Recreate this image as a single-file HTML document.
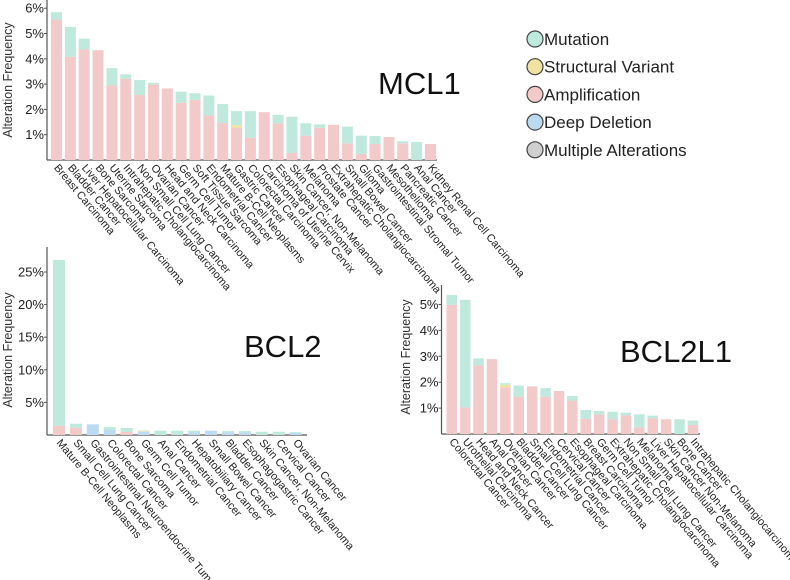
<!DOCTYPE html>
<html><head><meta charset="utf-8">
<style>
html,body{margin:0;padding:0;background:#fff;}
svg{display:block;font-family:"Liberation Sans",Arial,sans-serif;}
</style></head>
<body>
<svg id="chart" width="790" height="580" viewBox="0 0 790 580">
  <g id="legend"></g>
</svg>
<script>
// ---- MCL1 data ----
const mclCats = ["Breast Carcinoma","Bladder Cancer","Liver Hepatocellular Carcinoma","Bone Sarcoma","Uterine Sarcoma","Intrahepatic Cholangiocarcinoma","Non Small Cell Lung Cancer","Ovarian Cancer","Head and Neck Carcinoma","Germ Cell Tumor","Soft Tissue Sarcoma","Endometrial Cancer","Mature B-Cell Neoplasms","Gastric Cancer","Colorectal Carcinoma","Carcinoma of Uterine Cervix","Esophageal Carcinoma","Skin Cancer, Non-Melanoma","Melanoma","Prostate Cancer","Extrahepatic Cholangiocarcinoma","Small Bowel Cancer","Glioma","Gastrointestinal Stromal Tumor","Mesothelioma","Pancreatic Cancer","Anal Cancer","Kidney Renal Cell Carcinoma"];
const mclAmp = [5.55,4.08,4.37,4.34,2.96,3.21,2.57,2.99,2.83,2.26,2.38,1.76,1.46,1.28,0.88,1.89,1.45,0.28,0.96,1.28,1.39,0.66,0.24,0.63,0.91,0.66,0,0.63];
const mclSv = [0,0,0,0,0,0,0,0,0,0,0,0,0,0.1,0,0,0,0,0,0,0,0,0,0,0,0,0,0];
const mclDel = [0,0,0,0,0,0,0,0,0,0,0,0,0,0,0,0,0,0,0,0,0,0,0,0,0,0,0,0];
const mclMut = [0.29,1.18,0.43,0,0.67,0.18,0.59,0.06,0,0.44,0.26,0.79,0.75,0.55,1.05,0,0.33,1.43,0.49,0.13,0,0.66,0.72,0.32,0,0.08,0.71,0];
const mclTicks = [1,2,3,4,5,6];
// ---- BCL2 data ----
const bcl2Cats = ["Mature B-Cell Neoplasms","Small Cell Lung Cancer","Gastrointestinal Neuroendocrine Tumor","Colorectal Cancer","Bone Sarcoma","Germ Cell Tumor","Anal Cancer","Endometrial Cancer","Hepatobiliary Cancer","Small Bowel Cancer","Bladder Cancer","Esophagogastric Cancer","Skin Cancer, Non-Melanoma","Cervical Cancer","Ovarian Cancer"];
const bcl2Amp = [1.43,1.12,0,0,0.5,0,0,0,0,0,0,0,0,0,0];
const bcl2Sv = [0,0,0,0,0,0.1,0,0,0,0,0,0,0,0,0];
const bcl2Del = [0,0,1.63,0.77,0,0.5,0,0,0.4,0.66,0.4,0.4,0,0,0.35];
const bcl2Mut = [25.4,0.61,0,0.45,0.57,0.1,0.66,0.66,0.26,0,0.2,0.2,0.5,0.5,0.1];
const bcl2Ticks = [5,10,15,20,25];
// ---- BCL2L1 data ----
const bclxCats = ["Colorectal Cancer","Urothelial Carcinoma","Head and Neck Cancer","Anal Cancer","Ovarian Cancer","Bladder Cancer","Small Cell Lung Cancer","Endometrial Cancer","Cervical Cancer","Esophageal Carcinoma","Breast Carcinoma","Germ Cell Tumor","Extrahepatic Cholangiocarcinoma","Non Small Cell Lung Cancer","Melanoma","Liver Hepatocellular Carcinoma","Skin Cancer Non-Melanoma","Bone Cancer","Intrahepatic Cholangiocarcinoma"];
const bclxAmp = [4.99,1.03,2.65,2.89,1.8,1.44,1.84,1.44,1.66,1.29,0.59,0.75,0.57,0.72,0.26,0.61,0.57,0,0.35];
const bclxSv = [0,0,0,0,0.1,0,0,0,0,0,0,0,0,0,0,0,0,0,0];
const bclxDel = [0,0,0,0,0,0,0,0,0,0,0,0,0,0,0,0,0,0,0];
const bclxMut = [0.38,4.15,0.27,0,0.06,0.43,0,0.33,0,0.18,0.34,0.14,0.29,0.1,0.5,0.1,0,0.57,0.17];
const bclxTicks = [1,2,3,4,5];
// ---- legend ----
const legendLabels = ["Mutation","Structural Variant","Amplification","Deep Deletion","Multiple Alterations"];

const COL = {mut:"#bfe9dc", sv:"#f0e2a0", amp:"#f2caca", del:"#bcdbf0", multi:"#cfcfcf"};
const NS = "http://www.w3.org/2000/svg";
const svg = document.getElementById("chart");
function mk(tag, attrs, parent){
  const e = document.createElementNS(NS, tag);
  for (const k in attrs) e.setAttribute(k, attrs[k]);
  (parent||svg).appendChild(e);
  return e;
}

function panel(cfg){
  const g = mk("g", {});
  
  
  const y = v => cfg.y0 - v * cfg.ppu;
  const x = i => cfg.x0 + cfg.gap + i * cfg.pitch;
  const ya = mk("line", {x1:cfg.axX, x2:cfg.axX, y1:cfg.axTop, y2:cfg.y0, stroke:"#555", "stroke-width":1.2}, g);
  
  
  const xa = mk("line", {x1:cfg.axX, x2:cfg.axRight, y1:cfg.y0, y2:cfg.y0, stroke:"#555", "stroke-width":1.2}, g);
  
  
  cfg.ticks.forEach(t => {
    mk("line", {x1:cfg.axX-3, x2:cfg.axX, y1:y(t), y2:y(t), stroke:"#555"}, g);
    const tl = mk("text", {x:cfg.axX-3, y:y(t)+4.5, "text-anchor":"end", "font-size":13, fill:"#222"}, g);
    tl.textContent = t + "%";
    
    
  });
  const yt = mk("text", {x:0, y:0, "text-anchor":"middle", "font-size":12.5, fill:"#333",
    transform:`translate(${cfg.ytX},${cfg.ytY}) rotate(-90)`}, g);
  yt.textContent = "Alteration Frequency";
  
  
  cfg.cats.forEach((c, i) => {
    let base = 0;
    const segs = [["amp", cfg.amp[i]], ["del", cfg.del[i]], ["sv", cfg.sv[i]], ["mut", cfg.mut[i]]];
    segs.forEach(([k, v]) => {
      if (v > 0) {
        const r = mk("rect", {x:x(i), y:y(base+v), width:cfg.bw, height:v*cfg.ppu, fill:COL[k]}, g);
        
        
        base += v;
      }
    });
    const cx = x(i) + cfg.bw/2;
    const lb = mk("text", {x:0, y:0, "font-size":11, fill:"#222",
      transform:`translate(${cx-3},${cfg.y0+8}) rotate(50)`}, g);
    lb.textContent = c;
    
    
  });
  const title = mk("text", {x:cfg.tX, y:cfg.tY, "font-size":31, fill:"#111"}, g);
  title.textContent = cfg.name.toUpperCase();
  
  
}

panel({name:"mcl1", cats:mclCats, amp:mclAmp, sv:mclSv, del:mclDel, mut:mclMut, ticks:mclTicks,
  x0:47, gap:4, pitch:13.85, bw:11, y0:160, ppu:25.3, axX:47, axTop:0, axRight:437,
  ytX:12, ytY:80, tX:378, tY:94});
panel({name:"bcl2", cats:bcl2Cats, amp:bcl2Amp, sv:bcl2Sv, del:bcl2Del, mut:bcl2Mut, ticks:bcl2Ticks,
  x0:47, gap:6, pitch:16.9, bw:12, y0:435, ppu:6.52, axX:47, axTop:247, axRight:307,
  ytX:12, ytY:350, tX:244, tY:357});
panel({name:"bcl2l1", cats:bclxCats, amp:bclxAmp, sv:bclxSv, del:bclxDel, mut:bclxMut, ticks:bclxTicks,
  x0:441.5, gap:5, pitch:13.4, bw:10.5, y0:434, ppu:25.9, axX:441.5, axTop:285, axRight:700,
  ytX:410, ytY:357, tX:620, tY:362});

const lg = document.getElementById("legend");
const lgCols = [COL.mut, COL.sv, COL.amp, COL.del, COL.multi];
legendLabels.forEach((l, i) => {
  const cy = 39 + i * 27.7;
  const c = mk("circle", {cx:535, cy:cy, r:8, fill:lgCols[i], stroke:"#444", "stroke-width":1.2}, lg);
  
  
  const t = mk("text", {x:544, y:cy+6, "font-size":17, fill:"#222"}, lg);
  t.textContent = l;
  
  
});
</script>
</body></html>
